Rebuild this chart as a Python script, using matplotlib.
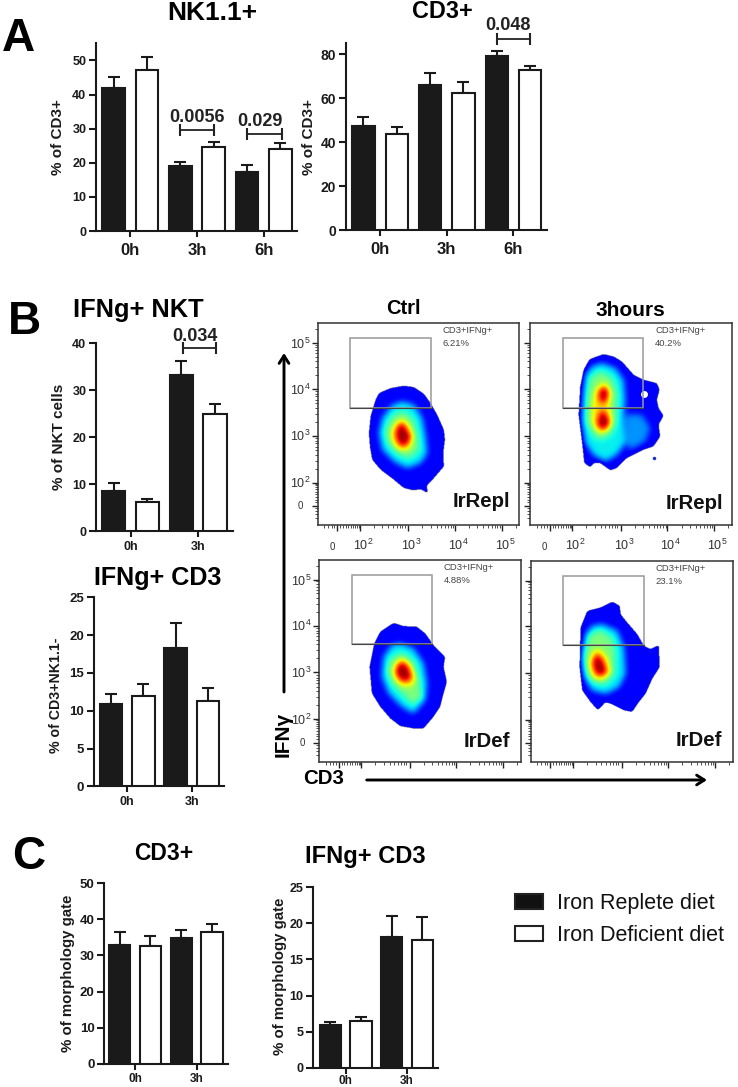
import numpy as np
import matplotlib
matplotlib.use("Agg")
import matplotlib.pyplot as plt
from matplotlib.path import Path
from matplotlib.patches import Patch, Rectangle

W, H = 738, 1087
plt.rcParams['font.family'] = ['Liberation Sans', 'DejaVu Sans']

# Bar values, tops of error bars (black, white per time point)
a1_groups = ['0h', '3h', '6h']
a1_black = [42.0, 19.0, 17.3]
a1_white = [47.3, 24.7, 24.0]
a1_black_top = [45.0, 20.2, 19.4]
a1_white_top = [51.0, 26.0, 25.8]

a2_groups = ['0h', '3h', '6h']
a2_black = [47.3, 65.8, 79.1]
a2_white = [43.6, 62.4, 72.7]
a2_black_top = [51.5, 71.2, 81.5]
a2_white_top = [47.0, 67.3, 74.5]

b1_groups = ['0h', '3h']
b1_black = [8.6, 33.2]
b1_white = [6.2, 24.9]
b1_black_top = [10.2, 36.2]
b1_white_top = [6.75, 27.0]

b2_groups = ['0h', '3h']
b2_black = [10.9, 18.25]
b2_white = [12.0, 11.3]
b2_black_top = [12.2, 21.6]
b2_white_top = [13.5, 13.0]

c1_groups = ['0h', '3h']
c1_black = [32.9, 34.75]
c1_white = [32.6, 36.6]
c1_black_top = [36.4, 37.0]
c1_white_top = [35.3, 38.8]

c2_groups = ['0h', '3h']
c2_black = [5.9, 18.16]
c2_white = [6.5, 17.65]
c2_black_top = [6.3, 21.0]
c2_white_top = [7.0, 20.9]

# Flow plots: outlines in channel units, one list per density level
gate_x = [98, 340]
gate_y = [352, 560]

ctrl_repl_outer = [(257,417),(287,413),(317,393),(337,365),(357,330),(377,285),(380,255),(375,215),(377,175),(347,140),(324,115),(332,93),(319,100),(307,107),(287,103),(257,110),(227,135),(187,165),(162,195),(155,235),(152,275),(157,325),(172,375),(182,395),(217,410)]
ctrl_repl_cyan = [(252,370),(287,360),(312,320),(322,265),(327,215),(307,185),(267,170),(227,190),(192,225),(182,275),(192,320),(222,360)]
ctrl_repl_green = [(252,340),(282,320),(297,275),(302,225),(272,200),(237,215),(207,250),(202,285),(222,325)]
ctrl_repl_yellow = [(252,320),(275,295),(285,265),(277,230),(252,220),(227,235),(217,270),(227,300)]
ctrl_repl_red = [(254,307),(267,285),(279,265),(267,240),(249,235),(235,255),(232,280),(242,300)]

h3_repl_outer = [(220,512),(250,505),(275,490),(310,450),(340,435),(380,425),(388,405),(380,375),(385,350),(400,327),(385,300),(390,265),(370,235),(340,225),(290,200),(260,170),(240,163),(210,185),(190,185),(180,172),(162,185),(158,225),(152,275),(145,330),(150,415),(160,465),(178,497)]
h3_repl_patch = [(285,330),(335,330),(360,290),(345,250),(300,225),(285,250)]
h3_repl_cyan = [(215,485),(255,470),(280,435),(285,375),(280,325),(285,245),(260,210),(225,190),(190,210),(165,245),(155,305),(158,385),(165,450),(185,475)]
h3_repl_green = [(210,460),(245,440),(260,395),(258,335),(255,300),(240,270),(210,255),(185,275),(168,315),(172,385),(180,440)]
h3_repl_yellow = [(220,430),(240,400),(238,355),(245,310),(230,280),(205,275),(185,305),(185,355),(195,405)]
h3_repl_red_a = [(225,417),(237,395),(225,365),(208,370),(205,400)]
h3_repl_red_b = [(220,345),(240,310),(232,290),(210,285),(200,305),(208,335)]

ctrl_def_outer = [(223,417),(253,407),(293,405),(318,385),(343,350),(378,315),(373,285),(383,240),(373,205),(363,165),(343,135),(313,100),(283,100),(243,107),(213,130),(183,165),(158,205),(151,285),(165,355),(183,390)]
ctrl_def_cyan = [(243,355),(283,340),(313,295),(323,235),(318,185),(283,145),(248,165),(208,205),(188,255),(193,315),(218,350)]
ctrl_def_green = [(248,325),(283,300),(298,245),(308,195),(281,173),(248,205),(218,235),(203,275),(215,310)]
ctrl_def_yellow = [(251,315),(275,290),(291,250),(278,225),(253,225),(231,240),(221,270),(231,300)]
ctrl_def_red = [(251,300),(268,285),(278,255),(263,240),(243,245),(228,265),(233,290)]

h3_def_outer = [(243,483),(266,470),(268,445),(288,420),(318,385),(338,350),(358,340),(383,352),(385,285),(363,250),(343,205),(323,180),(303,150),(278,155),(238,175),(223,180),(200,155),(178,180),(153,215),(145,285),(148,405),(168,455),(208,465)]
h3_def_cyan = [(213,415),(258,395),(278,345),(283,265),(263,225),(223,205),(183,215),(158,255),(150,315),(163,385),(183,410)]
h3_def_green = [(206,397),(243,370),(250,335),(248,265),(223,235),(183,240),(163,275),(160,325),(173,380)]
h3_def_yellow = [(200,345),(228,315),(240,270),(213,245),(183,255),(173,295),(183,330)]
h3_def_red = [(200,327),(218,300),(228,270),(203,257),(188,275),(183,305)]

fig = plt.figure(figsize=(W / 100, H / 100), dpi=100, facecolor='white')


def px_axes(left, right, top, bottom):
    return fig.add_axes([left / W, 1 - bottom / H, (right - left) / W, (bottom - top) / H])


def px_text(x, y, s, **kw):
    fig.text(x / W, 1 - y / H, s, ha=kw.pop('ha', 'center'), va=kw.pop('va', 'center'), **kw)


def bar_panel(box, xlim, ymax, yticks, groups, black, white, black_top, white_top,
              ylab, ylab_pos, tick_size, x_size, x_pad, bar_w, ylab_size):
    ax = px_axes(*box)
    n = len(groups)
    x = np.arange(2 * n)
    vals = np.ravel(np.column_stack([black, white]))
    tops = np.ravel(np.column_stack([black_top, white_top]))
    cols = ['#1a1a1a', 'white'] * n
    ax.errorbar(x, vals, yerr=[np.zeros(2 * n), tops - vals], fmt='none', ecolor='#1a1a1a',
                elinewidth=1.5, capsize=4, capthick=1.5, clip_on=False, zorder=2)
    ax.bar(x, vals, bar_w, color=cols, edgecolor='#1a1a1a', linewidth=1.5, zorder=3)
    ax.set_xlim(*xlim)
    ax.set_ylim(0, ymax)
    for s in ['top', 'right']:
        ax.spines[s].set_visible(False)
    for s in ['left', 'bottom']:
        ax.spines[s].set_linewidth(1.5)
        ax.spines[s].set_color('#1a1a1a')
    ax.set_yticks(yticks)
    ax.set_xticks(x[::2] + 0.5)
    ax.set_xticklabels(groups, fontsize=x_size, fontweight='bold')
    ax.tick_params(axis='y', length=5, width=1.5, labelsize=tick_size, pad=2, colors='#1a1a1a')
    ax.tick_params(axis='x', length=4, width=1.5, pad=x_pad, colors='#1a1a1a')
    for t in ax.get_yticklabels():
        t.set_fontweight('bold')
    px_text(ylab_pos[0], ylab_pos[1], ylab, rotation=90,
            fontsize=ylab_size, fontweight='bold', color='#1a1a1a')
    return ax


def bracket(ax, x1, x2, y, label, tx, ty):
    ax.plot([x1, x2], [y, y], color='#222222', lw=1.3, clip_on=False, zorder=4)
    ax.plot([x1, x2], [y, y], ls='none', marker='|', ms=8, mew=1.5, color='#222222',
            clip_on=False, zorder=4)
    ax.text(tx, ty, label, ha='center', va='center', fontsize=13, fontweight='bold',
            color='#222222', clip_on=False)


# Panel A
ax = bar_panel((96, 296.7, 42.7, 231), (-0.53, 5.49), 55.2, range(0, 51, 10), a1_groups, a1_black, a1_white,
               a1_black_top, a1_white_top, '% of CD3+', (58, 137), 9, 12, 4.5, 0.68, 11)
bracket(ax, 2.0, 3.0, 29.6, '0.0056', 2.51, 33.3)
bracket(ax, 4.0, 5.06, 28.4, '0.029', 4.38, 32.2)
ax = bar_panel((346, 546.7, 42.7, 230), (-0.52, 5.5), 85.2, range(0, 81, 20), a2_groups, a2_black, a2_white,
               a2_black_top, a2_white_top, '% of CD3+', (309, 137), 10, 12, 4.5, 0.67, 11)
bracket(ax, 4.0, 5.0, 87.0, '0.048', 4.34, 92.9)

# Panel B bars
ax = bar_panel((96, 233, 343.3, 531), (-0.52, 3.53), 40, range(0, 41, 10), b1_groups, b1_black, b1_white,
               b1_black_top, b1_white_top, '% of NKT cells', (59, 436.7), 9, 9, 3, 0.69, 11)
bracket(ax, 2.06, 3.03, 38.9, '0.034', 2.4, 41.4)
bar_panel((93.7, 224, 597.3, 786.3), (-0.54, 3.5), 25, range(0, 26, 5), b2_groups, b2_black, b2_white,
          b2_black_top, b2_white_top, '% of CD3+NK1.1-', (56, 695.7), 9.5, 9, 3, 0.7, 10.2)

# Panel C
bar_panel((104.3, 228.3, 883.3, 1063.7), (-0.5, 3.53), 50, range(0, 51, 10), c1_groups, c1_black, c1_white,
          c1_black_top, c1_white_top, '% of morphology gate', (68, 973), 9.5, 8.5, 2.5, 0.69, 10.8)
bar_panel((313.3, 437.7, 887.3, 1067.7), (-0.56, 3.5), 25, range(0, 26, 5), c2_groups, c2_black, c2_white,
          c2_black_top, c2_white_top, '% of morphology gate', (280, 976.7), 9, 8.5, 1.2, 0.7, 10.8)

# Titles and panel letters
px_text(212, 13.5, 'NK1.1+', fontsize=19, fontweight='bold')
px_text(442.7, 11, 'CD3+', fontsize=16.8, fontweight='bold')
px_text(138, 310, 'IFNg+ NKT', fontsize=18.3, fontweight='bold')
px_text(158, 578, 'IFNg+ CD3', fontsize=18.1, fontweight='bold')
px_text(163.7, 854, 'CD3+', fontsize=16.5, fontweight='bold')
px_text(365, 857, 'IFNg+ CD3', fontsize=17, fontweight='bold')
px_text(18, 50.7, 'A', fontsize=33, fontweight='bold', va='baseline')
px_text(24, 334, 'B', fontsize=33, fontweight='bold', va='baseline')
px_text(28.6, 869, 'C', fontsize=33, fontweight='bold', va='baseline')
px_text(403, 309, 'Ctrl', fontsize=14.5, fontweight='bold')
px_text(630, 310, '3hours', fontsize=15, fontweight='bold')

# Legend
handles = [Patch(facecolor='#111111', edgecolor='#222222', linewidth=1.5),
           Patch(facecolor='white', edgecolor='#222222', linewidth=1.5)]
fig.legend(handles, ['Iron Replete diet', 'Iron Deficient diet'], loc='upper left',
           bbox_to_anchor=(510.5 / W, 1 - 889 / H), bbox_transform=fig.transFigure, frameon=False,
           fontsize=15.5, handlelength=1.3, handleheight=0.7, handletextpad=0.68, labelspacing=0.5,
           borderaxespad=0, borderpad=0.2, labelcolor='#111111')


# Density images
step = 1.5
gx, gy = np.meshgrid(np.arange(0, 605, step), np.arange(0, 605, step))
grid_pts = np.column_stack([gx.ravel(), gy.ravel()])


def blur(img, sigma):
    r = int(3 * sigma)
    k = np.exp(-0.5 * (np.arange(-r, r + 1) / sigma) ** 2)
    k /= k.sum()
    img = np.apply_along_axis(lambda m: np.convolve(m, k, mode='same'), 0, img)
    return np.apply_along_axis(lambda m: np.convolve(m, k, mode='same'), 1, img)


def mask_of(poly):
    return Path(poly).contains_points(grid_pts).reshape(gx.shape).astype(float)


def density(outer, levels):
    field = mask_of(outer) * 0.12
    for poly, val in levels:
        field = np.maximum(field, mask_of(poly) * val)
    field = blur(field, 6)
    edge = blur(mask_of(outer), 2.5) > 0.5
    return np.ma.masked_where(~edge, np.maximum(field, 0.11))


def flow_panel(box, outer, levels, name, label_pos, pct, show_x, show_y, holes=()):
    ax = px_axes(*box)
    img = density(outer, levels)
    ax.imshow(img, origin='lower', extent=(0, 605, 0, 605), cmap='jet', vmin=0, vmax=1,
              interpolation='bilinear', aspect='auto', zorder=1)
    for hx, hy, hr in holes:
        ax.plot(hx, hy, 'o', ms=hr, color='white' if hr > 3 else '#1030d0', mew=0, zorder=2)
    ax.add_patch(Rectangle((gate_x[0], gate_y[0]), gate_x[1] - gate_x[0], gate_y[1] - gate_y[0],
                           fill=False, edgecolor='#999999', lw=1.1, zorder=3))
    ax.plot(gate_x, [gate_y[0], gate_y[0]], color='#444444', lw=0.8, zorder=3)
    ax.set_xlim(0, 605)
    ax.set_ylim(0, 605)
    major_x = [59, 127, 272, 412, 552]
    major_y = [57, 127, 268, 408, 545]
    ks = np.log10(np.arange(2, 10))
    minor_x = np.concatenate([[d + 141 * ks for d in major_x[1:]]]).ravel()
    minor_y = np.concatenate([[d + 139 * ks for d in major_y[1:]]]).ravel()
    low = [20, 32, 42, 50, 68, 76, 84, 92, 100, 107, 113, 119, 124]
    ax.set_xticks(major_x)
    ax.set_yticks(major_y)
    ax.set_xticks(np.r_[low, minor_x[minor_x < 600]], minor=True)
    ax.set_yticks(np.r_[low, minor_y[minor_y < 600]], minor=True)
    ax.set_xticklabels([])
    ax.set_yticklabels([])
    ax.tick_params(which='major', length=4.5, width=1, color='#222222')
    ax.tick_params(which='minor', length=2.2, width=0.6, color='#333333')
    for s in ax.spines.values():
        s.set_linewidth(1.1)
        s.set_color('#333333')
    ax.text(375, 583, 'CD3+IFNg+', fontsize=6.8, color='#444444', va='center')
    ax.text(375, 543, pct, fontsize=6.8, color='#444444', va='center')
    ax.text(label_pos[0], label_pos[1], name, fontsize=14.7, fontweight='bold', ha='right',
            va='center', color='#111111')
    decades = ['2', '3', '4', '5']
    if show_x:
        ax.text(44, -65, '0', fontsize=7, color='#333333', ha='center', va='center')
        for d, lab in zip(major_x[1:], decades):
            ax.text(d + 10, -62, r'$\mathregular{10^{%s}}$' % lab, fontsize=9, color='#333333',
                    ha='center', va='center')
    if show_y:
        ax.text(-51, 57, '0', fontsize=7, color='#333333', ha='center', va='center')
        for d, lab in zip(major_y[1:], decades):
            ax.text(-22, d - 3, r'$\mathregular{10^{%s}}$' % lab, fontsize=9, color='#333333',
                    ha='right', va='center')


flow_panel((317.7, 519.3, 323.3, 525), ctrl_repl_outer,
           [(ctrl_repl_cyan, 0.36), (ctrl_repl_green, 0.5), (ctrl_repl_yellow, 0.68), (ctrl_repl_red, 0.98)],
           'IrRepl', (577, 70), '6.21%', True, True)
flow_panel((530, 731.7, 323.3, 525), h3_repl_outer,
           [(h3_repl_patch, 0.27), (h3_repl_cyan, 0.36), (h3_repl_green, 0.5), (h3_repl_yellow, 0.68),
            (h3_repl_red_a, 0.98), (h3_repl_red_b, 0.98)],
           'IrRepl', (580, 63), '40.2%', True, False, holes=[(343, 392, 5), (373, 202, 2.5)])
flow_panel((319, 520.5, 560, 761.7), ctrl_def_outer,
           [(ctrl_def_cyan, 0.36), (ctrl_def_green, 0.5), (ctrl_def_yellow, 0.68), (ctrl_def_red, 0.98)],
           'IrDef', (573, 60), '4.88%', False, True)
flow_panel((530.7, 732.7, 560.7, 761.7), h3_def_outer,
           [(h3_def_cyan, 0.36), (h3_def_green, 0.5), (h3_def_yellow, 0.68), (h3_def_red, 0.98)],
           'IrDef', (573, 65), '23.1%', False, False)

# Axis arrows of the flow plots
overlay = fig.add_axes([0, 0, 1, 1], facecolor='none')
overlay.set_xlim(0, W)
overlay.set_ylim(H, 0)
overlay.axis('off')
overlay.annotate('', xy=(284, 353), xytext=(284, 692),
                 arrowprops=dict(arrowstyle='->,head_length=0.55,head_width=0.35', lw=2.1, color='black',
                                 shrinkA=0, shrinkB=0))
overlay.annotate('', xy=(707, 780), xytext=(366.7, 780),
                 arrowprops=dict(arrowstyle='->,head_length=0.55,head_width=0.35', lw=2.1, color='black',
                                 shrinkA=0, shrinkB=0))
px_text(283, 734, 'IFNγ', rotation=90, fontsize=15, fontweight='bold')
px_text(323.5, 778, 'CD3', fontsize=14.7, fontweight='bold')

fig.savefig('out.png', dpi=100)
